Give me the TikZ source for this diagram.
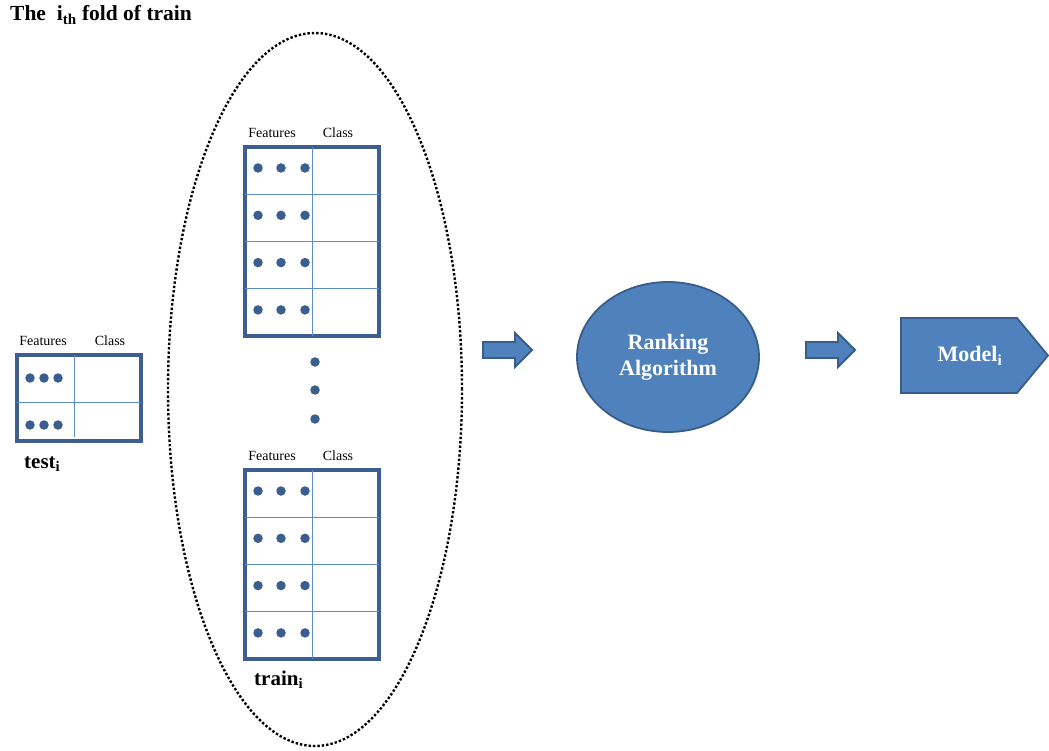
\documentclass[tikz,border=0pt]{standalone}
\usepackage{fontspec}
\setmainfont{Liberation Serif}
\usetikzlibrary{shapes.geometric}
\definecolor{boxedge}{HTML}{3D5E8E}
\definecolor{gridline}{HTML}{5B8BC8}
\definecolor{dotcol}{HTML}{3A5F8F}
\definecolor{fillblue}{HTML}{4F81BD}
\definecolor{edgeblue}{HTML}{385D8A}
\tikzset{
  tableframe/.style={draw=boxedge, line width=3.1pt},
  gridrule/.style={draw=gridline, line width=1pt},
  featdot/.style={circle, fill=dotcol, inner sep=0pt, minimum size=9.5pt},
  headlabel/.style={font=\fontsize{14}{16}\selectfont, inner sep=0pt},
  setlabel/.style={font=\fontsize{21}{24}\selectfont\bfseries, inner sep=0pt},
  blockarrow/.style={draw=edgeblue, fill=fillblue, line width=1.8pt, line join=miter},
  whitetext/.style={text=white, font=\fontsize{22}{26}\selectfont\bfseries, align=center},
}
\begin{document}
\begin{tikzpicture}[x=1pt, y=-1pt]
\useasboundingbox (0,0) rectangle (1049,751);

% title
\node[anchor=base west, inner sep=0pt, font=\fontsize{21.5}{24}\selectfont\bfseries]
  (title) at (10,21) {The \ i\textsubscript{th} fold of train};

% dotted ellipse around the training fold
\node[ellipse, draw=black, line width=2.4pt, dotted, minimum width=294pt,
  minimum height=713pt, inner sep=0pt] (fold) at (315,389.5) {};

% test table
\draw[tableframe] (17,355) rectangle (141,441);
\draw[gridrule] (74,355) -- (74,437);
\draw[gridrule] (17,402) -- (141,402);
\foreach \yy in {378,425}
  \foreach \xx in {30,44,58}
    \node[featdot] at (\xx,\yy) {};
\node[headlabel] (tfeat) at (43,341) {Features};
\node[headlabel] (tclass) at (110,341) {Class};
\node[setlabel, anchor=base west] (testlab) at (24,468) {test\textsubscript{i}};

% training tables
\foreach \top/\nm in {147/upper, 470/lower}{
  \draw[tableframe] (245,\top) rectangle (379,\top+189);
  \draw[gridrule] (312,\top) -- (312,\top+189);
  \foreach \r in {1,2,3}
    \draw[gridrule] (245,\top+47.3*\r) -- (379,\top+47.3*\r);
  \foreach \r in {0,1,2,3}
    \foreach \xx in {258,281,305}
      \node[featdot] at (\xx,\top+21+47.3*\r) {};
  \node[headlabel] (\nm feat) at (272,\top-14) {Features};
  \node[headlabel] (\nm class) at (338,\top-14) {Class};
}
\node[setlabel, anchor=base west] (trainlab) at (254,685) {train\textsubscript{i}};

% vertical ellipsis between the tables
\foreach \yy in {362,390,419}
  \node[featdot] at (315,\yy) {};

% block arrows
\foreach \dx in {0,323}
  \draw[blockarrow] (483+\dx,342) -- (515+\dx,342) -- (515+\dx,333) -- (532+\dx,350)
    -- (515+\dx,367) -- (515+\dx,358) -- (483+\dx,358) -- cycle;

% ranking algorithm
\node[ellipse, draw=edgeblue, fill=fillblue, line width=1.8pt,
  minimum width=182pt, minimum height=150pt, inner sep=0pt, whitetext] (rank)
  at (668,357) {Ranking\\Algorithm};

% model pentagon
\draw[draw=edgeblue, fill=fillblue, line width=1.8pt]
  (901,318) -- (1017,318) -- (1048,355.5) -- (1017,393) -- (901,393) -- cycle;
\node[whitetext] (model) at (970,356) {Model\textsubscript{i}};
\end{tikzpicture}
\end{document}
